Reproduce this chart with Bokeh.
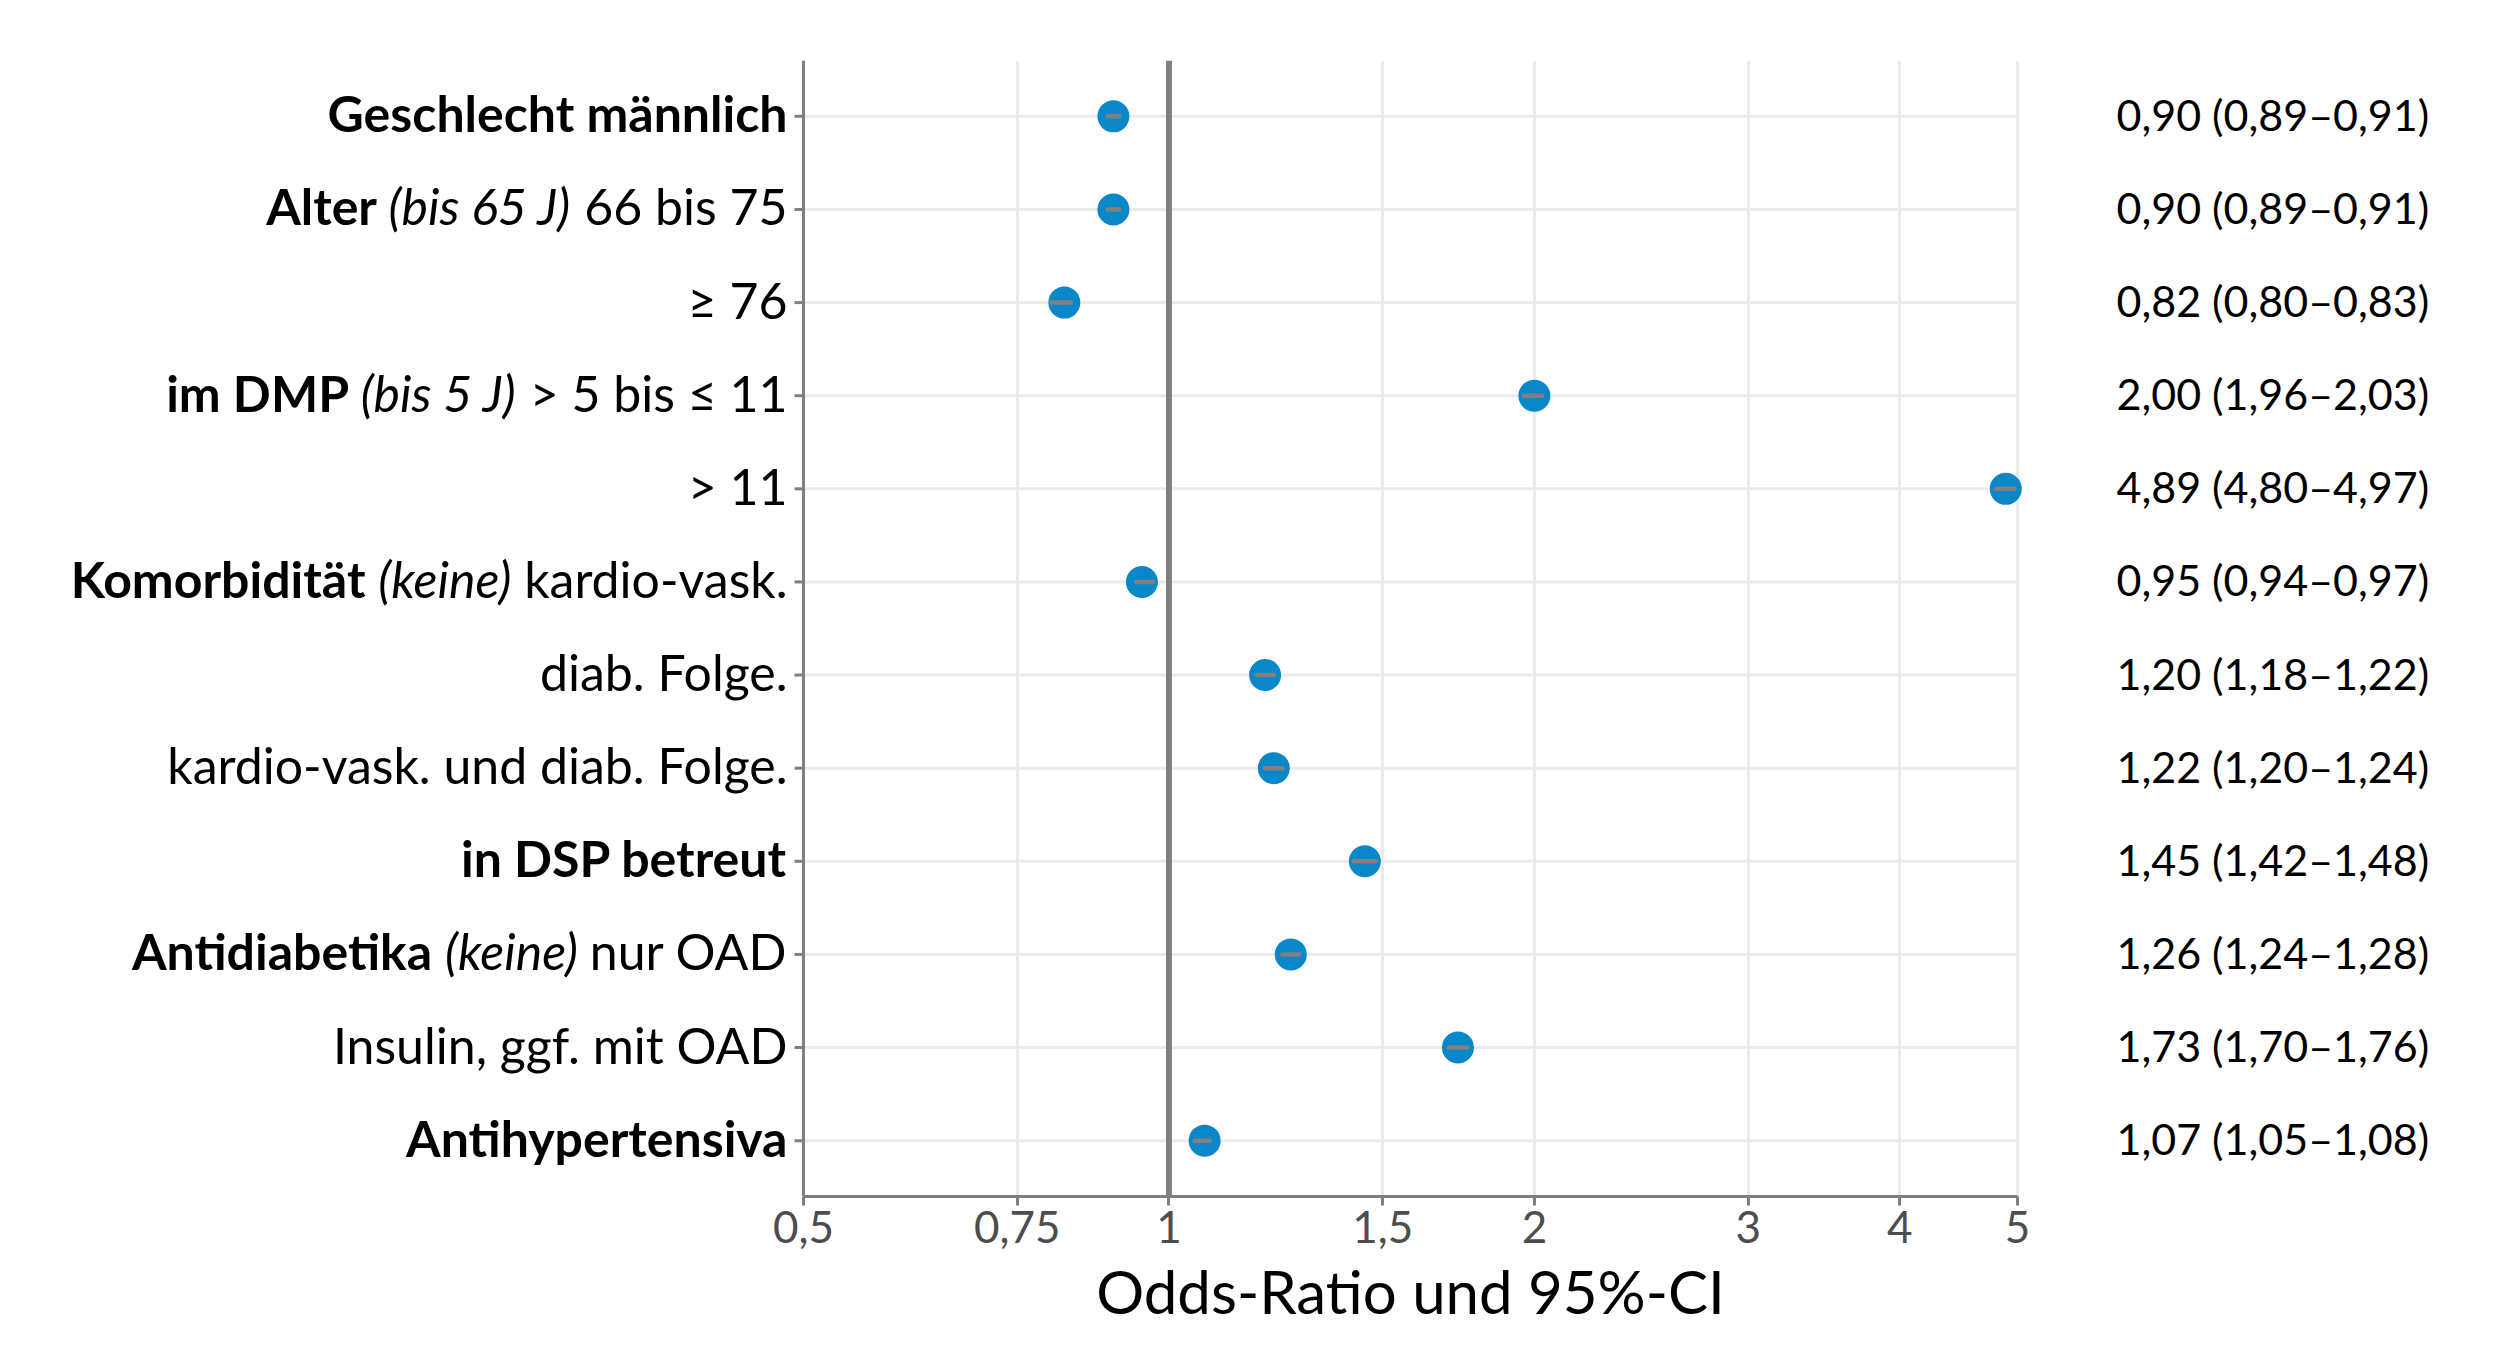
import glob
import math
import os
import subprocess

from bokeh.plotting import figure
from bokeh.models import ColumnDataSource, FixedTicker, Range1d, Span, Title
from bokeh.core.properties import value
from bokeh.embed import file_html
from bokeh.resources import INLINE

# ---------------- data ----------------
groups = ["Geschlecht männlich", "Alter", "", "im DMP", "", "Komorbidität", "", "",
          "in DSP betreut", "Antidiabetika", "", "Antihypertensiva"]
references = ["", "(bis 65 J)", "", "(bis 5 J)", "", "(keine)", "", "",
              "", "(keine)", "", ""]
levels = ["", "66 bis 75", "≥ 76", "> 5 bis ≤ 11", "> 11", "kardio-vask.", "diab. Folge.",
          "kardio-vask. und diab. Folge.", "", "nur OAD", "Insulin, ggf. mit OAD", ""]
odds_ratio = [0.90, 0.90, 0.82, 2.00, 4.89, 0.95, 1.20, 1.22, 1.45, 1.26, 1.73, 1.07]
ci_low = [0.89, 0.89, 0.80, 1.96, 4.80, 0.94, 1.18, 1.20, 1.42, 1.24, 1.70, 1.05]
ci_high = [0.91, 0.91, 0.83, 2.03, 4.97, 0.97, 1.22, 1.24, 1.48, 1.28, 1.76, 1.08]
x_ticks = [0.5, 0.75, 1, 1.5, 2, 3, 4, 5]
x_tick_labels = ["0,5", "0,75", "1", "1,5", "2", "3", "4", "5"]
x_title = "Odds-Ratio und 95%-CI"

# ---------------- style / layout ----------------
W, H = 2494, 1352
PANEL_LEFT_PX = 803      # pixel of x = 0.5
PANEL_RIGHT_PX = 2017    # pixel of x = 5
TOP, BOTTOM = 60, 156
FONT = "Lato"
LEFT_SIZE = 50
RIGHT_SIZE = 43
TICK_SIZE = 44
TITLE_SIZE = 60
BLUE = "#0a87c8"
GREY = "#808080"
GRID = "#ebebeb"
TICK_LEN = 9

n = len(odds_ratio)
rows = list(range(1, n + 1))
x_lo, x_hi = x_ticks[0], x_ticks[-1]
decade_px = (PANEL_RIGHT_PX - PANEL_LEFT_PX) / math.log10(x_hi / x_lo)


def px_shift(x, px):
    """x value that lies px pixels away from x on the log scale"""
    return x * 10 ** (px / decade_px)


def fmt(v):
    return f"{v:.2f}".replace(".", ",")


right_text = [f"{fmt(o)} ({fmt(l)}–{fmt(h)})" for o, l, h in zip(odds_ratio, ci_low, ci_high)]

# ---------------- text measuring ----------------
FILES = {"normal": ["Lato-Regular.ttf"], "bold": ["Lato-Bold.ttf"], "italic": ["Lato-Italic.ttf"]}
FC = {"normal": "Lato:style=Regular", "bold": "Lato:style=Bold", "italic": "Lato:style=Italic"}


def font_path(style):
    roots = ["/usr/share/fonts", "/usr/local/share/fonts",
             os.path.expanduser("~/.fonts"), os.path.expanduser("~/.local/share/fonts")]
    for r in roots:
        for name in FILES[style]:
            hits = glob.glob(os.path.join(r, "**", name), recursive=True)
            if hits:
                return hits[0]
    try:
        out = subprocess.run(["fc-match", "-f", "%{file}", FC[style]],
                             capture_output=True, text=True, timeout=10).stdout.strip()
        if out and os.path.exists(out):
            return out
    except Exception:
        pass
    return None


_fonts = {}


def text_width(text, style, size):
    key = (style, size)
    if key not in _fonts:
        f = None
        try:
            from PIL import ImageFont
            path = font_path(style)
            if path:
                f = ImageFont.truetype(path, size)
        except Exception:
            f = None
        _fonts[key] = f
    f = _fonts[key]
    if f is None:
        return 0.5 * size * len(text)
    return f.getlength(text)


# ---------------- figure ----------------
# frame spans the whole canvas width; the data panel is 0.5 .. 5
x_range = Range1d(px_shift(x_lo, -PANEL_LEFT_PX), px_shift(x_hi, W - PANEL_RIGHT_PX))
p = figure(width=W, height=H, x_axis_type="log",
           x_range=x_range, y_range=Range1d(n + 0.6, 0.4),
           output_backend="svg", toolbar_location=None,
           min_border_left=0, min_border_right=0,
           min_border_top=TOP, min_border_bottom=BOTTOM)
p.outline_line_color = None
p.background_fill_color = "white"
p.border_fill_color = "white"
p.yaxis.visible = False
p.ygrid.visible = False

# vertical grid lines
p.xgrid.ticker = FixedTicker(ticks=[t for t in x_ticks if t not in (x_lo, 1)])
p.xgrid.grid_line_color = GRID
p.xgrid.grid_line_width = 3

# x axis
xa = p.xaxis[0]
xa.bounds = (x_lo, x_hi)
xa.ticker = FixedTicker(ticks=x_ticks)
xa.major_label_overrides = {t: l for t, l in zip(x_ticks, x_tick_labels)}
xa.axis_line_color = GREY
xa.axis_line_width = 3
xa.major_tick_line_color = GREY
xa.major_tick_line_width = 3
xa.major_tick_out = TICK_LEN
xa.major_tick_in = 0
xa.minor_tick_line_color = None
xa.major_label_text_font = FONT
xa.major_label_text_font_size = f"{TICK_SIZE}px"
xa.major_label_text_color = "#4d4d4d"
xa.major_label_standoff = 5

# axis title, centred under the data panel
title_w = text_width(x_title, "normal", TITLE_SIZE)
p.add_layout(Title(text=x_title, align="left",
                   offset=(PANEL_LEFT_PX + PANEL_RIGHT_PX) / 2 - title_w / 2,
                   text_font=FONT, text_font_size=f"{TITLE_SIZE}px",
                   text_font_style="normal", text_color="black", standoff=15), "below")

src = ColumnDataSource(dict(y=rows, orv=odds_ratio, lo=ci_low, hi=ci_high,
                            txt=right_text,
                            x0=[x_lo] * n, x1=[x_hi] * n,
                            xt=[px_shift(x_lo, -TICK_LEN)] * n))

# horizontal grid lines (only inside the panel)
p.segment(x0="x0", y0="y", x1="x1", y1="y", source=src, line_color=GRID, line_width=3)
# reference line at OR = 1
p.add_layout(Span(location=1, dimension="height", line_color=GREY, line_width=6, level="glyph"))
# y axis line and ticks
p.add_layout(Span(location=x_lo, dimension="height", line_color=GREY, line_width=3, level="glyph"))
p.segment(x0="xt", y0="y", x1="x0", y1="y", source=src, line_color=GREY, line_width=3)

# points and CIs
p.scatter(x="orv", y="y", source=src, size=32, fill_color=BLUE, line_color=None)
p.segment(x0="lo", y0="y", x1="hi", y1="y", source=src, line_color=GREY,
          line_width=4.5, line_cap="round")

# right-hand OR texts
p.text(x="x1", y="y", text="txt", source=src, x_offset=99, y_offset=-2,
       text_align="left", text_baseline="middle",
       text_font=value(FONT), text_font_size=f"{RIGHT_SIZE}px", text_color="black")

# left-hand mixed-style labels (bold group, italic reference, normal level)
GAP = 16
space_w = text_width(" ", "normal", LEFT_SIZE)
segs = {"bold": ([], [], []), "italic": ([], [], []), "normal": ([], [], [])}
for r, g, ref, lev in zip(rows, groups, references, levels):
    parts = [pp for pp in [(g, "bold"), (ref, "italic"), (lev, "normal")] if pp[0]]
    off = GAP
    for txt, style in reversed(parts):
        ys, ts, offs = segs[style]
        ys.append(r)
        ts.append(txt)
        offs.append(-off)
        off += text_width(txt, style, LEFT_SIZE) + space_w

for style, (ys, ts, offs) in segs.items():
    s = ColumnDataSource(dict(x=[x_lo] * len(ys), y=ys, t=ts, o=offs))
    p.text(x="x", y="y", text="t", x_offset="o", y_offset=-3, source=s,
           text_align="right", text_baseline="middle",
           text_font=value(FONT), text_font_size=f"{LEFT_SIZE}px",
           text_font_style=value(style), text_color="black")

open("out.html", "w").write(file_html(p, INLINE))
